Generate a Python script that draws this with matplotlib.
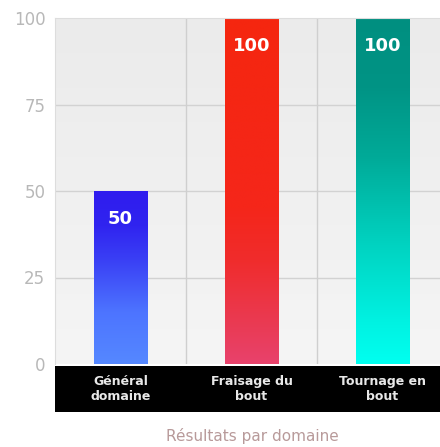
import numpy as np
import matplotlib
matplotlib.use("Agg")
import matplotlib.pyplot as plt
from matplotlib.colors import LinearSegmentedColormap
from matplotlib.patches import Rectangle

categories = ["Général\ndomaine", "Fraisage du\nbout", "Tournage en\nbout"]
values = [50, 100, 100]
yticks = [0, 25, 50, 75, 100]
title = "Résultats par domaine"

# gradient stops per bar: (fraction from bottom, colour)
bar_gradients = [
    [(0.0, "#5588ff"), (0.3, "#4d74ff"), (0.6, "#3a40f5"), (0.8, "#3024f0"), (1.0, "#2f1cee")],
    [(0.0, "#e8426c"), (0.12, "#ea3a52"), (0.3, "#f02c2c"), (0.45, "#f5261a"), (1.0, "#f5260f")],
    [(0.0, "#00fff0"), (0.12, "#00f2e2"), (0.35, "#00d2c0"), (0.6, "#00aa98"), (0.8, "#009485"), (1.0, "#008f80")],
]

W, H = 440, 447
fig = plt.figure(figsize=(W / 100, H / 100), dpi=100)
fig.patch.set_facecolor("white")

left, right = 55, 448
top, bottom = 18, 364
ax = fig.add_axes([left / W, 1 - bottom / H, (right - left) / W, (bottom - top) / H])
ax.set_xlim(-0.5, len(categories) - 0.5)
ax.set_ylim(0, 100)

# background gradient
bg = LinearSegmentedColormap.from_list("bg", ["#f5f5f5", "#ebebeb"])
ax.imshow(np.linspace(0, 1, 256).reshape(-1, 1), cmap=bg, aspect="auto",
          extent=[0, 1, 0, 1], transform=ax.transAxes, origin="lower", zorder=0)

# grid
for y in yticks[1:-1]:
    ax.axhline(y, color="#d2d2d2", lw=1, zorder=1)
for i in range(len(categories) - 1):
    ax.axvline(i + 0.5, color="#cfcfcf", lw=1, zorder=1)

bars = ax.bar(range(len(categories)), values, width=0.41, color="none", zorder=2)
for i, b in enumerate(bars):
    x0, w, h = b.get_x(), b.get_width(), b.get_height()
    cm = LinearSegmentedColormap.from_list("g%d" % i, bar_gradients[i])
    grad = np.linspace(0, 1, 256).reshape(-1, 1)
    ax.imshow(grad, cmap=cm, aspect="auto", extent=[x0, x0 + w, 0, h],
              origin="lower", zorder=2, interpolation="bilinear")
    ax.text(x0 + w / 2, h - 8, str(values[i]), ha="center", va="center",
            color="white", fontsize=13, fontweight="bold", zorder=3)

ax.set_xticks([])
ax.set_yticks(yticks)
ax.set_yticklabels([str(v) for v in yticks], color="#b8b8b8", fontsize=12)
ax.tick_params(axis="y", length=0, pad=7)
for s in ax.spines.values():
    s.set_visible(False)
ax.spines["top"].set_visible(True)
ax.spines["top"].set_color("#dddddd")
ax.spines["left"].set_visible(True)
ax.spines["left"].set_color("#dddddd")

# black category band
band_top, band_bottom = 366, 412
fig.patches.append(Rectangle((left / W, 1 - band_bottom / H), (right - left) / W,
                             (band_bottom - band_top) / H, transform=fig.transFigure,
                             facecolor="black", edgecolor="none", zorder=0))
for i, c in enumerate(categories):
    xf = ax.transData.transform((i, 0))[0] / W
    fig.text(xf, 1 - (band_top + band_bottom) / 2 / H, c, ha="center", va="center",
             color="#e8e8e8", fontsize=9, fontweight="bold", linespacing=1.2)

fig.text(252 / W, 1 - 436 / H, title, ha="center", va="center", color="#b89a9a", fontsize=11)

fig.savefig("out.png", dpi=100)
